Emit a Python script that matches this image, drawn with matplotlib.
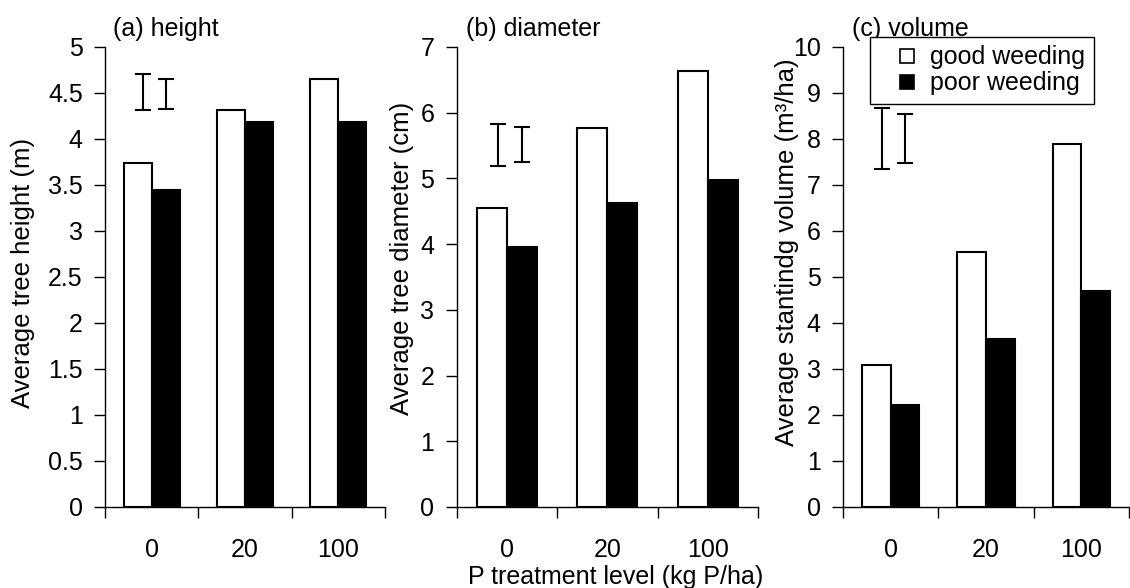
import matplotlib.pyplot as plt
import numpy as np
from matplotlib.lines import Line2D
from matplotlib.ticker import FormatStrFormatter, MultipleLocator

plt.rcParams['font.family'] = ['Liberation Sans', 'DejaVu Sans']

p_levels = ['0', '20', '100']
series_names = ['good weeding', 'poor weeding']

height_good = [3.74, 4.31, 4.65]
height_poor = [3.44, 4.18, 4.18]
diam_good = [4.55, 5.77, 6.64]
diam_poor = [3.95, 4.62, 4.98]
vol_good = [3.09, 5.55, 7.88]
vol_poor = [2.22, 3.65, 4.69]

# LSD-style bars drawn at top left of each panel: (mean, half length)
height_lsd_mid = [4.51, 4.49]
height_lsd_half = [0.20, 0.16]
diam_lsd_mid = [5.51, 5.51]
diam_lsd_half = [0.315, 0.265]
vol_lsd_mid = [8.01, 8.01]
vol_lsd_half = [0.655, 0.525]

panels = [
    dict(title='(a) height', good=height_good, poor=height_poor, ymax=5, step=0.5,
         fmt='%g', ylabel='Average tree height (m)',
         lsd_mid=height_lsd_mid, lsd_half=height_lsd_half,
         rect=[0.0929, 0.1378, 0.2478, 0.7823], ylab_xy=(-0.293, 0.509)),
    dict(title='(b) diameter', good=diam_good, poor=diam_poor, ymax=7, step=1,
         fmt='%g', ylabel='Average tree diameter (cm)',
         lsd_mid=diam_lsd_mid, lsd_half=diam_lsd_half,
         rect=[0.404, 0.1378, 0.2668, 0.7823], ylab_xy=(-0.181, 0.541)),
    dict(title='(c) volume', good=vol_good, poor=vol_poor, ymax=10, step=1,
         fmt='%g', ylabel='Average stantindg volume (m\u00b3/ha)',
         lsd_mid=vol_lsd_mid, lsd_half=vol_lsd_half,
         rect=[0.746, 0.1378, 0.2531, 0.7823], ylab_xy=(-0.196, 0.554)),
]

fig = plt.figure(figsize=(11.3, 5.88), dpi=100)
x = np.arange(len(p_levels))
w = 0.3
fs = 18

for p in panels:
    ax = fig.add_axes(p['rect'])
    ax.bar(x - w / 2, p['good'], w, color='white', edgecolor='black', linewidth=1.5, zorder=2)
    ax.bar(x + w / 2, p['poor'], w, color='black', edgecolor='black', linewidth=1.5, zorder=2)
    ax.errorbar([-0.09, 0.155], p['lsd_mid'], yerr=p['lsd_half'], fmt='none',
                ecolor='black', elinewidth=1.5, capsize=5.5, capthick=1.5, zorder=3)

    ax.set_xlim(-0.5, 2.5)
    ax.set_ylim(0, p['ymax'])
    ax.yaxis.set_major_locator(MultipleLocator(p['step']))
    ax.yaxis.set_major_formatter(FormatStrFormatter(p['fmt']))

    # category separators as major ticks, labels on minor ticks
    ax.set_xticks([-0.5, 0.5, 1.5, 2.5])
    ax.set_xticklabels([])
    ax.set_xticks(x, minor=True)
    ax.set_xticklabels(p_levels, minor=True)
    ax.tick_params(axis='x', which='major', length=8, width=1, direction='out')
    ax.tick_params(axis='x', which='minor', length=0, pad=22, labelsize=fs)
    ax.tick_params(axis='y', length=8, width=1, direction='out', pad=8, labelsize=fs)

    for side in ['top', 'right']:
        ax.spines[side].set_visible(False)
    for side in ['left', 'bottom']:
        ax.spines[side].set_linewidth(1)

    ax.text(p['ylab_xy'][0], p['ylab_xy'][1], p['ylabel'], rotation=90,
            transform=ax.transAxes, ha='center', va='center', fontsize=18.5)
    ax.text(0.03, 1.024, p['title'], transform=ax.transAxes, ha='left',
            va='baseline', fontsize=fs)

handles = [Line2D([], [], linestyle='none', marker='s', markersize=9.5,
                  markerfacecolor=c, markeredgecolor='black', markeredgewidth=1.2)
           for c in ['white', 'black']]
leg = ax.legend(handles, series_names, loc='upper left', bbox_to_anchor=(0.094, 1.022),
                borderaxespad=0, fontsize=fs, frameon=True, fancybox=False,
                framealpha=1, edgecolor='black', borderpad=0.34, labelspacing=0.08,
                handlelength=2.28, handletextpad=-0.2, numpoints=1)
leg.get_frame().set_linewidth(1)

fig.text(616 / 1130, 1 - 577 / 588, 'P treatment level (kg P/ha)', ha='center',
         va='center', fontsize=fs)

plt.savefig('out.png', dpi=100)
